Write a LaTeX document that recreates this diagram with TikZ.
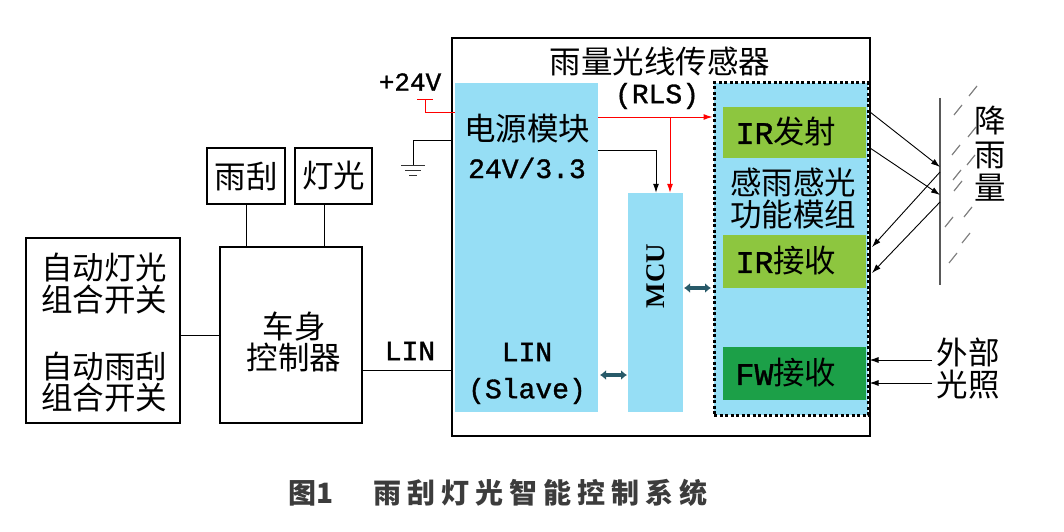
\documentclass[tikz,border=0pt]{standalone}
\usepackage{fontspec}
\setmainfont{Liberation Serif}
\newfontfamily\cjk{Noto Sans CJK SC}
\newfontfamily\lat[FakeBold=1.2]{Liberation Mono}
\usetikzlibrary{arrows.meta,calc}
\definecolor{lblue}{RGB}{150,222,245}
\definecolor{igreen}{RGB}{141,198,63}
\definecolor{fgreen}{RGB}{28,160,72}
\definecolor{teal2}{RGB}{40,90,105}
\definecolor{capgray}{RGB}{60,60,60}
\tikzset{
  wbox/.style={draw=black,line width=2pt,fill=white,inner sep=0pt},
  bbox/.style={fill=lblue,inner sep=0pt},
  gbox/.style={fill=igreen,inner sep=0pt},
  fbox/.style={fill=fgreen,inner sep=0pt},
  zh/.style={font=\cjk\fontsize{31.5}{33}\selectfont,inner sep=0pt,align=center},
  en/.style={font=\lat\fontsize{28}{30}\selectfont,inner sep=0pt},
  wire/.style={line width=1pt,black},
  arr/.style={line width=1pt,-{Latex[length=9pt,width=6pt]}},
  dbl/.style={line width=3.5pt,teal2,{Latex[length=6pt,width=10pt]}-{Latex[length=6pt,width=10pt]}},
  slash/.style={gray,line width=1.2pt}
}
\begin{document}
\begin{tikzpicture}[x=1pt,y=-1pt]
\useasboundingbox (0,0) rectangle (1064,532);
% left blocks
\node[wbox,minimum width=154,minimum height=185] (lb) at (103,330.5) {};
\node[zh] (t1) at (104,268) {自动灯光};
\node[zh] (t2) at (104,300) {组合开关};
\node[zh] (t3) at (104,367) {自动雨刮};
\node[zh] (t4) at (104,398) {组合开关};
\node[wbox,minimum width=142,minimum height=176] (cs) at (291,335) {};
\node[zh] (t5) at (294,327) {车身};
\node[zh] (t6) at (294,358) {控制器};
\node[wbox,minimum width=78,minimum height=56] (yg) at (246,176) {};
\node[zh] (t7) at (246,176) {雨刮};
\node[wbox,minimum width=77,minimum height=56] (dg) at (333.5,176) {};
\node[zh] (t8) at (333.5,176) {灯光};
\draw[wire] (yg.south) -- (yg.south |- cs.north);
\coordinate (dgs) at (324,204);
\draw[wire] (dgs) -- (dgs |- cs.north);
\draw[wire] (cs.west) -- (cs.west -| lb.east);
% big box
\node[wbox,line width=2.5pt,minimum width=418,minimum height=398] (big) at (661,237) {};
\node[zh] (ttl) at (660,61) {雨量光线传感器};
\node[en] (rls) at (657,96) {(RLS)};
% LIN wire
\coordinate (lin1) at (362,370);
\coordinate (lin2) at (452,370);
\draw[wire] (lin1) -- (lin2);
\node[en] (lint) at (410,351) {LIN};
% power module
\node[bbox,minimum width=143,minimum height=329] (pw) at (526.5,247.5) {};
\node[zh] (pw1) at (527,129) {电源模块};
\node[en] (pw2) at (527,168) {24V/3.3};
\node[en] (pw3) at (527,352) {LIN};
\node[en] (pw4) at (527,391) {(Slave)};
% MCU
\node[bbox,minimum width=55,minimum height=219] (mcu) at (655.5,302.5) {};
\node[font=\bfseries\fontsize{27}{29}\selectfont,rotate=90,inner sep=0pt] (mcut) at (655.5,276) {MCU};
% dotted module
\node[bbox,draw=black,line width=3pt,dash pattern=on 3pt off 2.5pt,minimum width=154,minimum height=332] (dm) at (791,249) {};
\node[gbox,minimum width=143,minimum height=51] (irt) at (794.5,132.5) {};
\node[zh] (irtt) at (786,132) {{\lat IR}发射};
\node[zh] (dmt1) at (793,182) {感雨感光};
\node[zh] (dmt2) at (793,215) {功能模组};
\node[gbox,minimum width=143,minimum height=53] (irr) at (794.5,261.5) {};
\node[zh] (irrt) at (786,261) {{\lat IR}接收};
\node[fbox,minimum width=143,minimum height=53] (fw) at (794.5,373.5) {};
\node[zh] (fwt) at (786,373) {{\lat FW}接收};
% +24V and ground
\node[en,font=\lat\fontsize{26}{28}\selectfont] (v24) at (410,82) {+24V};
\coordinate (r1) at (417,100);
\coordinate (r2) at (433,100);
\coordinate (r3) at (425,100);
\coordinate (r4) at (425,113);
\coordinate (r5) at (455,113);
\draw[red,line width=1pt] (r1) -- (r2);
\draw[red,line width=1pt] (r3) -- (r4) -- (r5);
\coordinate (g1) at (452,140);
\coordinate (g2) at (413,140);
\coordinate (g3) at (413,165);
\draw[wire] (g1) -- (g2) -- (g3);
\draw[black!80,line width=1pt] (401,165) -- (425,165) (405,170) -- (421,170) (409,175) -- (417,175);
% power arrows
\coordinate (pa1) at (598,117);
\coordinate (pa2) at (670,117);
\draw[red,arr] (pa1) -- (pa1 -| dm.west);
\draw[red,arr] (pa2) -- (pa2 |- mcu.north);
\coordinate (pb1) at (598,150);
\coordinate (pb2) at (656,150);
\draw[arr] (pb1) -- (pb2) -- (pb2 |- mcu.north);
% double arrows
\coordinate (d1) at (684,288);
\coordinate (d1b) at (711,288);
\draw[dbl] (d1) -- (d1b);
\coordinate (d2) at (600,375);
\coordinate (d3) at (627,375);
\draw[dbl] (d2) -- (d3);
% glass
\coordinate (gl1) at (940,98);
\coordinate (gl2) at (940,285);
\draw[gray!70!black,line width=1.5pt] (gl1) -- (gl2);
\foreach \x/\y in {973/91,958/110,972/132,956/150,971/160,957/175,958/186,968/212,949/222,966/238,953/258}
  \draw[slash] (\x-4,\y+5) -- (\x+4,\y-5);
% IR rays
\coordinate (e1) at (870,112);
\coordinate (e2) at (870,148);
\coordinate (h1) at (940,167);
\coordinate (h2) at (940,195);
\coordinate (h3) at (940,172);
\coordinate (h4) at (940,202);
\coordinate (q1) at (872,247);
\coordinate (q2) at (872,273);
\draw[arr,line width=0.9pt] (e1) -- (h1);
\draw[arr,line width=0.9pt] (e2) -- (h2);
\draw[arr,line width=0.9pt] (h3) -- (q1);
\draw[arr,line width=0.9pt] (h4) -- (q2);
\node[zh] (rn1) at (990,121) {降};
\node[zh] (rn2) at (990,155) {雨};
\node[zh] (rn3) at (990,188) {量};
% external light
\node[zh] (wb) at (968,352) {外部};
\node[zh] (gz) at (968,385) {光照};
\coordinate (x1) at (932,360);
\coordinate (x2) at (932,383);
\draw[arr] (x1) -- (x1 -| dm.east);
\draw[arr] (x2) -- (x2 -| dm.east);
% caption
\node[font=\cjk\bfseries\fontsize{28}{30}\selectfont,text=capgray,inner sep=0pt,anchor=west] (cap1) at (288,493) {图1};
\node[font=\cjk\bfseries\fontsize{28}{30}\selectfont,text=capgray,inner sep=0pt,anchor=west] (cap2) at (373,493) {雨\kern6pt 刮\kern6pt 灯\kern6pt 光\kern6pt 智\kern6pt 能\kern6pt 控\kern6pt 制\kern6pt 系\kern6pt 统};
\end{tikzpicture}
\end{document}
